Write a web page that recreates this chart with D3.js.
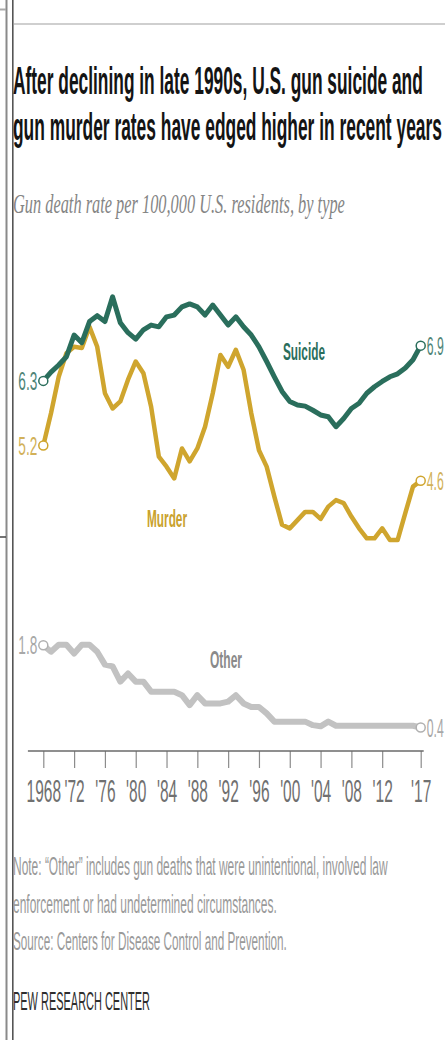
<!DOCTYPE html>
<html>
<head>
<meta charset="utf-8">
<script src="https://cdn.jsdelivr.net/npm/d3@7"></script>
<style>
    body { margin: 0; background: #fff; }
    #chart { width: 445px; height: 1040px; }
    text { font-family: "Liberation Sans", Arial, sans-serif; }
</style>
</head>
<body>
<div id="chart"></div>
<script>
// gun death rate per 100,000
const years = [1968, 1969, 1970, 1971, 1972, 1973, 1974, 1975, 1976, 1977,
    1978, 1979, 1980, 1981, 1982, 1983, 1984, 1985, 1986, 1987,
    1988, 1989, 1990, 1991, 1992, 1993, 1994, 1995, 1996, 1997,
    1998, 1999, 2000, 2001, 2002, 2003, 2004, 2005, 2006, 2007,
    2008, 2009, 2010, 2011, 2012, 2013, 2014, 2015, 2016, 2017];

const suicideRates = [6.3, 6.45, 6.57, 6.71, 7.08, 6.95, 7.31, 7.41, 7.31, 7.73,
    7.29, 7.12, 7.01, 7.17, 7.25, 7.22, 7.39, 7.42, 7.56, 7.61,
    7.56, 7.42, 7.59, 7.42, 7.25, 7.39, 7.22, 7.08, 6.88, 6.63,
    6.37, 6.12, 5.95, 5.89, 5.87, 5.80, 5.72, 5.69, 5.52, 5.66,
    5.83, 5.92, 6.09, 6.20, 6.29, 6.37, 6.42, 6.52, 6.66, 6.9];

const murderRates = [5.2, 5.75, 6.37, 6.77, 6.88, 6.86, 7.22, 6.88, 6.09, 5.83,
    5.95, 6.32, 6.63, 6.43, 5.86, 5.01, 4.84, 4.64, 5.15, 4.93,
    5.15, 5.52, 6.09, 6.74, 6.54, 6.83, 6.49, 5.75, 5.12, 4.84,
    4.33, 3.85, 3.79, 3.93, 4.07, 4.07, 3.95, 4.16, 4.27, 4.22,
    3.99, 3.79, 3.62, 3.62, 3.79, 3.59, 3.59, 4.05, 4.50, 4.6];

const otherRates = [1.8, 1.69, 1.81, 1.81, 1.66, 1.81, 1.81, 1.69, 1.47, 1.44,
    1.18, 1.32, 1.18, 1.18, 1.01, 1.01, 1.01, 1.01, 0.95, 0.78,
    0.95, 0.81, 0.81, 0.81, 0.84, 0.95, 0.81, 0.75, 0.75, 0.64,
    0.5, 0.5, 0.5, 0.5, 0.5, 0.44, 0.42, 0.5, 0.43, 0.43,
    0.43, 0.43, 0.43, 0.43, 0.43, 0.43, 0.43, 0.43, 0.43, 0.4];

const seriesNames = ["Suicide", "Murder", "Other"];
const startLabels = ["6.3", "5.2", "1.8"];
const endLabels = ["6.9", "4.6", "0.4"];

const tickYears = [1968, 1972, 1976, 1980, 1984, 1988, 1992, 1996, 2000, 2004, 2008, 2012, 2017];
const tickLabels = ["1968", "'72", "'76", "'80", "'84", "'88", "'92", "'96", "'00", "'04", "'08", "'12", "'17"];

const titleLines = ["After declining in late 1990s, U.S. gun suicide and",
    "gun murder rates have edged higher in recent years"];
const subtitle = "Gun death rate per 100,000 U.S. residents, by type";
const noteLines = ["Note: \u201cOther\u201d includes gun deaths that were unintentional, involved law",
    "enforcement or had undetermined circumstances.",
    "Source: Centers for Disease Control and Prevention."];
const credit = "PEW RESEARCH CENTER";


class GunDeathChart {

    constructor(parentElement) {
        this.parentElement = parentElement;
        this.width = 445;
        this.height = 1040;

        this.initVis();
    }

    // text squeezed sideways to the width it has in the picture
    addText(x, y, str, size, len, fill, opts = {}) {
        let t = this.svg.append("text")
            .attr("x", 0)
            .attr("y", 0)
            .attr("font-size", size)
            .attr("fill", fill)
            .text(str);
        if (opts.weight) t.attr("font-weight", opts.weight);
        if (opts.anchor) t.attr("text-anchor", opts.anchor);
        if (opts.family) t.style("font-family", opts.family);
        if (opts.italic) t.attr("font-style", "italic");

        let natural = t.node().getComputedTextLength();
        let sx = natural > 0 ? len / natural : 1;
        t.attr("transform", `translate(${x},${y}) scale(${sx},1)`);
        return t;
    }

    initVis() {
        let vis = this;

        vis.svg = d3.select("#" + vis.parentElement).append("svg")
            .attr("width", vis.width)
            .attr("height", vis.height);

        vis.svg.append("rect")
            .attr("width", vis.width)
            .attr("height", vis.height)
            .attr("fill", "#fff");

        // page frame bits around the graphic
        let frame = vis.svg.append("g").attr("fill", "none");
        frame.append("line").attr("x1", 6.5).attr("x2", 6.5).attr("y1", 0).attr("y2", vis.height)
            .attr("stroke", "#8a8a8a").attr("stroke-width", 2);
        frame.append("line").attr("x1", 12.8).attr("x2", 12.8).attr("y1", 0).attr("y2", vis.height)
            .attr("stroke", "#555").attr("stroke-width", 1.6);
        frame.append("line").attr("x1", 0).attr("x2", 6).attr("y1", 9.5).attr("y2", 9.5)
            .attr("stroke", "#aaa").attr("stroke-width", 2);
        frame.append("line").attr("x1", 14).attr("x2", vis.width).attr("y1", 24).attr("y2", 24)
            .attr("stroke", "#cfcfcf").attr("stroke-width", 2);
        frame.append("line").attr("x1", 0).attr("x2", 6).attr("y1", 537).attr("y2", 537)
            .attr("stroke", "#444").attr("stroke-width", 1.5);

        // headings
        vis.addText(13, 94, titleLines[0], 39, 410, "#141414", {weight: "bold"});
        vis.addText(13, 140, titleLines[1], 39, 429, "#141414", {weight: "bold"});
        vis.addText(13, 213, subtitle, 27, 332, "#858585",
            {italic: true, family: "'Liberation Serif', 'DejaVu Serif', serif"});

        // scales
        vis.xScale = d3.scaleLinear()
            .domain([1968, 2017])
            .range([43.3, 420.7]);

        vis.yScale = d3.scaleLinear()
            .domain([0, 7])
            .range([751, 339.75]);

        // x axis
        vis.svg.append("g")
            .attr("transform", `translate(0,${vis.yScale(0)})`)
            .call(d3.axisBottom(vis.xScale)
                .tickValues(tickYears)
                .tickFormat((d, i) => tickLabels[i])
                .tickSize(17)
                .tickPadding(12)
                .tickSizeOuter(0))
            .call(g => g.select(".domain").remove())
            .call(g => g.selectAll(".tick line").attr("stroke", "#8c8c8c").attr("stroke-width", 1.2))
            .call(g => g.selectAll(".tick text")
                .attr("font-size", 31)
                .attr("fill", "#707070")
                .attr("transform", "scale(0.5,1)")
                .style("font-family", "'Liberation Sans', Arial, sans-serif"))
            .call(g => g.append("line")
                .attr("x1", vis.xScale(1966))
                .attr("x2", vis.xScale(2017) + 3)
                .attr("stroke", "#6a6a6a")
                .attr("stroke-width", 1.6));

        // series table
        vis.series = [
            {name: seriesNames[0], values: suicideRates, line: "#2a6e5c", text: "#2a6e5c", labelText: "#4f8578",
                width: 5, lx: 283, ly: 360, lw: 42, start: startLabels[0], end: endLabels[0]},
            {name: seriesNames[1], values: murderRates, line: "#cfa52e", text: "#c9a22d", labelText: "#d2b158",
                width: 4.5, lx: 147, ly: 527, lw: 40, start: startLabels[1], end: endLabels[1]},
            {name: seriesNames[2], values: otherRates, line: "#c2c2c2", text: "#8a8a8a", labelText: "#a8a8a8",
                width: 6, lx: 210, ly: 668, lw: 32, start: startLabels[2], end: endLabels[2]}
        ];

        vis.line = d3.line()
            .x((d, i) => vis.xScale(years[i]))
            .y(d => vis.yScale(d));

        vis.updateVis();
    }

    updateVis() {
        let vis = this;

        // draw grey first so the coloured lines sit on top
        let order = [2, 1, 0];
        order.forEach(k => {
            let s = vis.series[k];
            vis.svg.append("path")
                .datum(s.values)
                .attr("fill", "none")
                .attr("stroke", s.line)
                .attr("stroke-width", s.width)
                .attr("stroke-linejoin", "round")
                .attr("stroke-linecap", "round")
                .attr("d", vis.line);
        });

        vis.series.forEach(s => {
            let n = s.values.length - 1;
            let x0 = vis.xScale(years[0]), y0 = vis.yScale(s.values[0]);
            let x1 = vis.xScale(years[n]), y1 = vis.yScale(s.values[n]);

            [[x0, y0], [x1, y1]].forEach(p => {
                vis.svg.append("circle")
                    .attr("cx", p[0])
                    .attr("cy", p[1])
                    .attr("r", 4.5)
                    .attr("fill", "#fff")
                    .attr("stroke", s.line === "#c2c2c2" ? "#b0b0b0" : s.line)
                    .attr("stroke-width", 1.5);
            });

            vis.addText(x0 - 6, y0 + 9, s.start, 25, 19, s.labelText, {anchor: "end"});
            vis.addText(x1 + 6, y1 + 9, s.end, 25, 17, s.labelText);

            vis.addText(s.lx, s.ly, s.name, 24, s.lw, s.text, {weight: "bold"});
        });

        // notes and credit
        let noteW = [375, 264, 274];
        noteLines.forEach((t, i) => {
            vis.addText(13, 875 + i * 37.5, t, 25, noteW[i], "#9a9a9a");
        });
        vis.addText(13, 1010, credit, 25, 137, "#2e2e2e");
    }
}

new GunDeathChart("chart");
</script>
</body>
</html>
